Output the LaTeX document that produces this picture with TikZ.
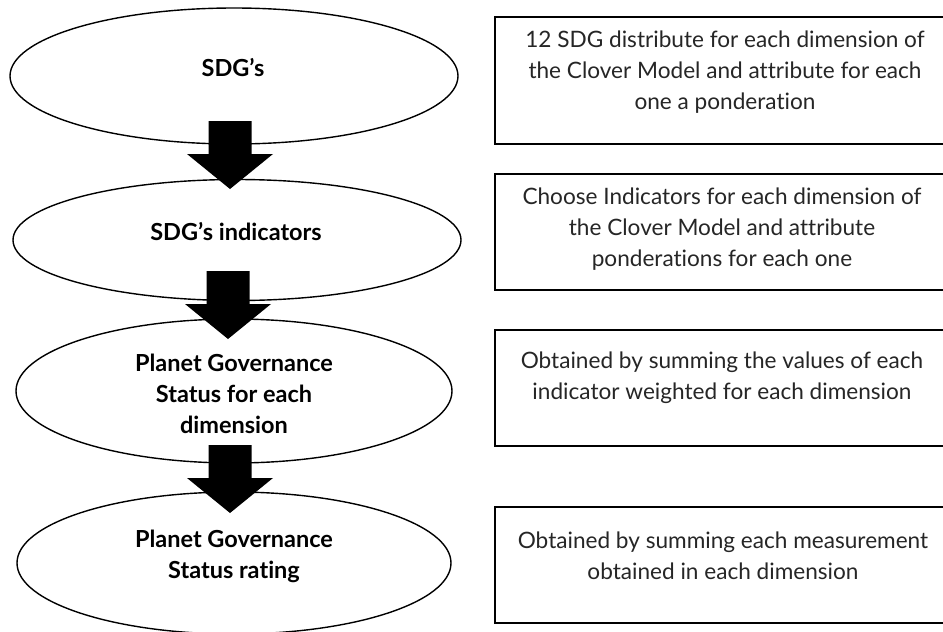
\documentclass[tikz,border=0pt]{standalone}
\usepackage{fontspec}
\setmainfont{Lato}[RawFeature={-liga}]
\usetikzlibrary{shapes.geometric}
\tikzset{
  stage/.style={ellipse, draw=black, line width=1.4pt, fill=white, inner sep=0pt},
  stagetext/.style={font=\fontsize{23.5}{31}\selectfont\bfseries, align=center, inner sep=0pt},
  notebox/.style={rectangle, draw=black, line width=2pt, inner sep=0pt, minimum width=458pt},
  notetext/.style={font=\fontsize{22.6}{31}\selectfont, align=center, inner sep=0pt, text=black!85},
  blockarrow/.pic={\fill[black] (-21.5,0) -- (-21.5,33) -- (-43,33) -- (0,68) -- (43,33) -- (21.5,33) -- (21.5,0) -- cycle;}
}
\begin{document}
\begin{tikzpicture}[x=1pt, y=-1pt]
\useasboundingbox (0,0) rectangle (943,632);
\clip (0,0) rectangle (943,632);
\fill[white] (0,0) rectangle (943,632);
% ellipses
\node[stage, minimum width=448pt, minimum height=136pt] (e1) at (234,76) {};
\node[stage, minimum width=448pt, minimum height=121pt] (e2) at (237,240) {};
\node[stage, minimum width=436pt, minimum height=144pt] (e3) at (234,391) {};
\node[stage, minimum width=434pt, minimum height=142pt] (e4) at (234,563) {};
\node[stagetext] (t1) at (233,68) {SDG’s};
\node[stagetext] (t2) at (236,232) {SDG’s indicators};
\node[stagetext] (t3) at (234,394) {Planet Governance\\Status for each\\dimension};
\node[stagetext] (t4) at (234,556) {Planet Governance\\Status rating};
% block arrows
\coordinate (a1) at (230,121);
\coordinate (a2) at (228,271);
\coordinate (a3) at (230,445);
\pic at (a1) {blockarrow};
\pic at (a2) {blockarrow};
\pic at (a3) {blockarrow};
% boxes
\node[notebox, minimum height=127pt] (b1) at (724,80.5) {};
\node[notebox, minimum height=116pt] (b2) at (724,232) {};
\node[notebox, minimum height=116pt] (b3) at (724,388) {};
\node[notebox, minimum height=116pt] (b4) at (724,565) {};
\node[notetext] (n1) at (725,72) {12 SDG distribute for each dimension of\\the Clover Model and attribute for each\\one a ponderation};
\node[notetext] (n2) at (722,229) {Choose Indicators for each dimension of\\the Clover Model and attribute\\ponderations for each one};
\node[notetext] (n3) at (722,378) {Obtained by summing the values of each\\indicator weighted for each dimension};
\node[notetext] (n4) at (723,556) {Obtained by summing each measurement\\obtained in each dimension};
\end{tikzpicture}
\end{document}
